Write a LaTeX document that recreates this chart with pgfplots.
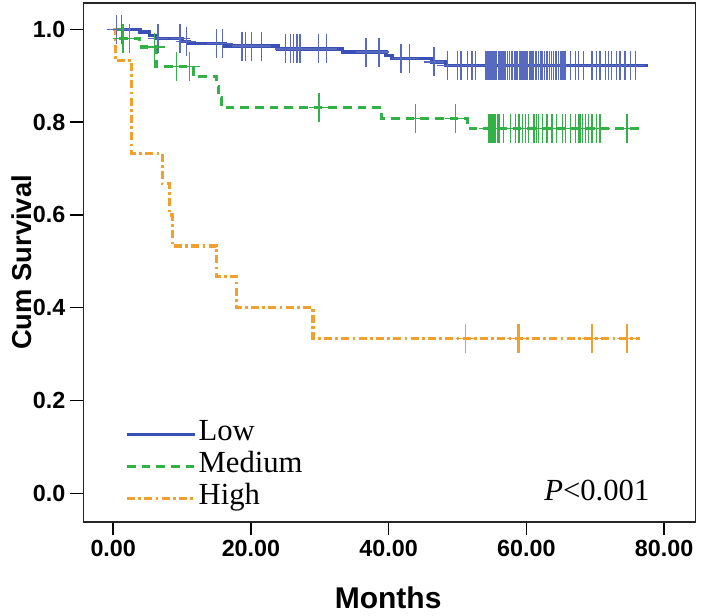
\documentclass[border=0pt]{standalone}
\usepackage{fontspec}
\setmainfont{Liberation Serif}
\setsansfont{Liberation Sans}
\usepackage{pgfplots}
\pgfplotsset{compat=1.18}
\definecolor{cLow}{RGB}{58,80,180}
\definecolor{cMed}{RGB}{50,178,70}
\definecolor{cHigh}{RGB}{242,160,45}
\begin{document}
\begin{tikzpicture}
\useasboundingbox (-62.5pt,-69.75pt) rectangle (464pt,391.5pt);
\begin{axis}[
  at={(0pt,0pt)}, anchor=south west,
  scale only axis, width=459pt, height=389.25pt,
  xmin=-4.34, xmax=84.53, ymin=-0.062, ymax=1.057,
  xtick={0,20,40,60,80}, ytick={0,0.2,0.4,0.6,0.8,1.0},
  tick pos=left, tick align=outside, major tick length=10pt,
  tick style={line width=1.1pt, black},
  axis line style={line width=1.2pt, black!85},
  /pgf/number format/assume math mode=true,
  ticklabel style={font=\sffamily\bfseries\fontsize{17.5}{19}\selectfont},
  xticklabel style={/pgf/number format/.cd, fixed, fixed zerofill, precision=2},
  yticklabel style={/pgf/number format/.cd, fixed, fixed zerofill, precision=1},
  xlabel={Months}, ylabel={Cum Survival},
  xlabel style={font=\sffamily\bfseries\fontsize{22.5}{24}\selectfont, at={(axis description cs:0.498,-0.146)}, anchor=center},
  ylabel style={font=\sffamily\bfseries\fontsize{20.5}{22}\selectfont, at={(axis description cs:-0.100,0.5)}, anchor=center},
  legend image code/.code={\draw[#1] (0pt,0pt) -- (51pt,0pt);},
  legend style={draw=none, fill=none, at={(axis cs:1.7,0.162)}, anchor=north west,
    font=\rmfamily\fontsize{23}{24}\selectfont, row sep=0pt, inner sep=0pt,
    nodes={inner sep=1.5pt, text height=15pt, text depth=6pt}},
  legend cell align=left,
]
% Low
\addplot[cLow, line width=2.6pt, const plot] coordinates {
(0,1.0)(3.9,0.994)(5.3,0.987)(6.3,0.980)(10.0,0.974)(11.0,0.970)(16.2,0.964)(23.9,0.958)(33.3,0.951)(39.6,0.944)(40.5,0.937)(46.3,0.930)(48.3,0.922)(77.7,0.922)};
\addlegendentry{Low}
% Medium
\addplot[cMed, line width=2.4pt, dash pattern=on 6.5pt off 4.5pt, const plot] coordinates {
(0,1.0)(1.0,0.981)(3.8,0.962)(6.2,0.920)(11.6,0.899)(15.0,0.877)(15.3,0.853)(15.7,0.831)(39.0,0.808)(51.4,0.786)(77.0,0.786)};
\addlegendentry{Medium}
% High
\addplot[cHigh, line width=2.4pt, dash pattern=on 6pt off 2.5pt on 2pt off 2.5pt, const plot] coordinates {
(0,1.0)(0.3,0.933)(2.7,0.733)(7.1,0.667)(8.2,0.600)(8.6,0.533)(15.0,0.467)(17.9,0.400)(29.0,0.333)(76.5,0.333)};
\addlegendentry{High}
% censor marks
\addplot[only marks, forget plot, mark=+, mark size=7.5pt, mark options={cLow!85, line width=1pt, yscale=1.45}] table {
x y
0.5 1.0
1.2 1.0
6.5 0.980
9.7 0.980
10.6 0.974
15.0 0.970
15.9 0.970
18.7 0.964
19.2 0.964
20.1 0.964
21.5 0.964
25.0 0.958
25.7 0.958
26.2 0.958
26.7 0.958
27.1 0.958
29.8 0.958
31.0 0.958
36.7 0.951
38.6 0.951
41.8 0.937
43.0 0.937
46.6 0.930
48.5 0.922
50.0 0.922
50.5 0.922
51.4 0.922
52.1 0.922
52.6 0.922
54.1 0.922
54.3 0.922
54.5 0.922
54.7 0.922
55.0 0.922
55.2 0.922
55.4 0.922
55.6 0.922
55.9 0.922
56.1 0.922
56.3 0.922
56.6 0.922
56.8 0.922
57.0 0.922
57.3 0.922
57.5 0.922
57.8 0.922
58.0 0.922
58.3 0.922
58.5 0.922
58.7 0.922
59.0 0.922
59.2 0.922
59.5 0.922
59.8 0.922
60.0 0.922
60.2 0.922
60.5 0.922
60.8 0.922
61.0 0.922
61.3 0.922
61.5 0.922
61.8 0.922
62.1 0.922
62.3 0.922
62.6 0.922
62.9 0.922
63.1 0.922
63.4 0.922
63.6 0.922
63.9 0.922
64.2 0.922
64.4 0.922
64.7 0.922
65.0 0.922
65.3 0.922
65.5 0.922
65.7 0.922
66.4 0.922
67.1 0.922
67.6 0.922
68.3 0.922
69.5 0.922
70.2 0.922
70.7 0.922
71.5 0.922
71.9 0.922
72.4 0.922
73.1 0.922
73.6 0.922
74.3 0.922
75.1 0.922
75.8 0.922
};
\addplot[only marks, forget plot, mark=+, mark size=7.5pt, mark options={cMed, line width=1pt, yscale=1.45}] table {
x y
1.4 0.981
2.4 0.981
6.0 0.962
9.2 0.920
11.1 0.920
29.9 0.831
43.9 0.808
49.7 0.808
54.55 0.786
54.8 0.786
55.0 0.786
55.3 0.786
55.5 0.786
55.8 0.786
56.0 0.786
56.7 0.786
57.7 0.786
58.4 0.786
58.9 0.786
59.4 0.786
59.9 0.786
60.3 0.786
61.1 0.786
61.5 0.786
61.8 0.786
62.3 0.786
63.0 0.786
63.7 0.786
64.4 0.786
65.2 0.786
65.7 0.786
66.4 0.786
67.1 0.786
67.6 0.786
67.8 0.786
68.1 0.786
68.6 0.786
69.0 0.786
69.5 0.786
70.2 0.786
70.7 0.786
74.6 0.786
};
\addplot[only marks, forget plot, mark=+, mark size=7.5pt, mark options={cHigh, line width=1pt, yscale=1.45}] table {
x y
51.2 0.333
58.7 0.333
58.9 0.333
69.5 0.333
74.6 0.333
};
\node[anchor=base east, inner sep=0pt, font=\rmfamily\fontsize{23}{24}\selectfont] at (axis cs:77.9,-0.016) {\textit{P}<0.001};
\end{axis}
\end{tikzpicture}
\end{document}
